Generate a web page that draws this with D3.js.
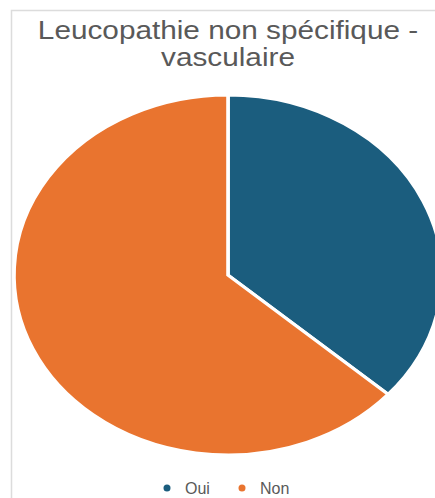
<!DOCTYPE html>
<html>
<head>
<meta charset="utf-8">
<script src="https://cdn.jsdelivr.net/npm/d3@7"></script>
<style>
  html, body { margin: 0; padding: 0; background: #fff; }
  svg { display: block; }
</style>
</head>
<body>
<div id="chart"></div>
<script>
const width = 435;
const height = 498;

// data
const titleLines = ["Leucopathie non spécifique -", "vasculaire"];
const categories = ["Oui", "Non"];
const values = [19, 33];
const colors = ["#1b5d7e", "#e9742f"];

const svg = d3.select("#chart")
    .append("svg")
    .attr("width", width)
    .attr("height", height);

// cadre
svg.append("path")
    .attr("d", `M 11.5 ${height} V 10.5 H ${width}`)
    .attr("fill", "none")
    .attr("stroke", "#dcdcdc")
    .attr("stroke-width", 1.5);

// titre (image d'origine étirée en largeur)
const title = svg.append("text")
    .attr("transform", "translate(228,0) scale(1.19,1)")
    .attr("text-anchor", "middle")
    .attr("font-family", "Liberation Sans, Arial, sans-serif")
    .attr("font-size", 25)
    .attr("fill", "#595959");

title.selectAll("tspan")
    .data(titleLines)
    .join("tspan")
    .attr("x", 0)
    .attr("y", (d, i) => 39 + i * 27)
    .text(d => d);

// camembert
const radius = 180;
const pie = d3.pie().sort(null).value(d => d);
const arc = d3.arc().innerRadius(0).outerRadius(radius);
const color = d3.scaleOrdinal().domain(categories).range(colors);

const g = svg.append("g")
    .attr("transform", `translate(228,275) scale(${214 / radius},1)`);

g.selectAll("path")
    .data(pie(values))
    .join("path")
    .attr("d", arc)
    .attr("fill", (d, i) => color(categories[i]))
    .attr("stroke", "#fff")
    .attr("stroke-width", 3);

// légende
const legendX = d3.scalePoint().domain(categories).range([167, 242]);

const legend = svg.append("g")
    .selectAll("g")
    .data(categories)
    .join("g")
    .attr("transform", d => `translate(${legendX(d)},488)`);

legend.append("circle")
    .attr("r", 3.5)
    .attr("fill", d => color(d));

legend.append("text")
    .attr("x", 18)
    .attr("y", 5.5)
    .attr("font-family", "Liberation Sans, Arial, sans-serif")
    .attr("font-size", 16)
    .attr("fill", "#595959")
    .text(d => d);
</script>
</body>
</html>
